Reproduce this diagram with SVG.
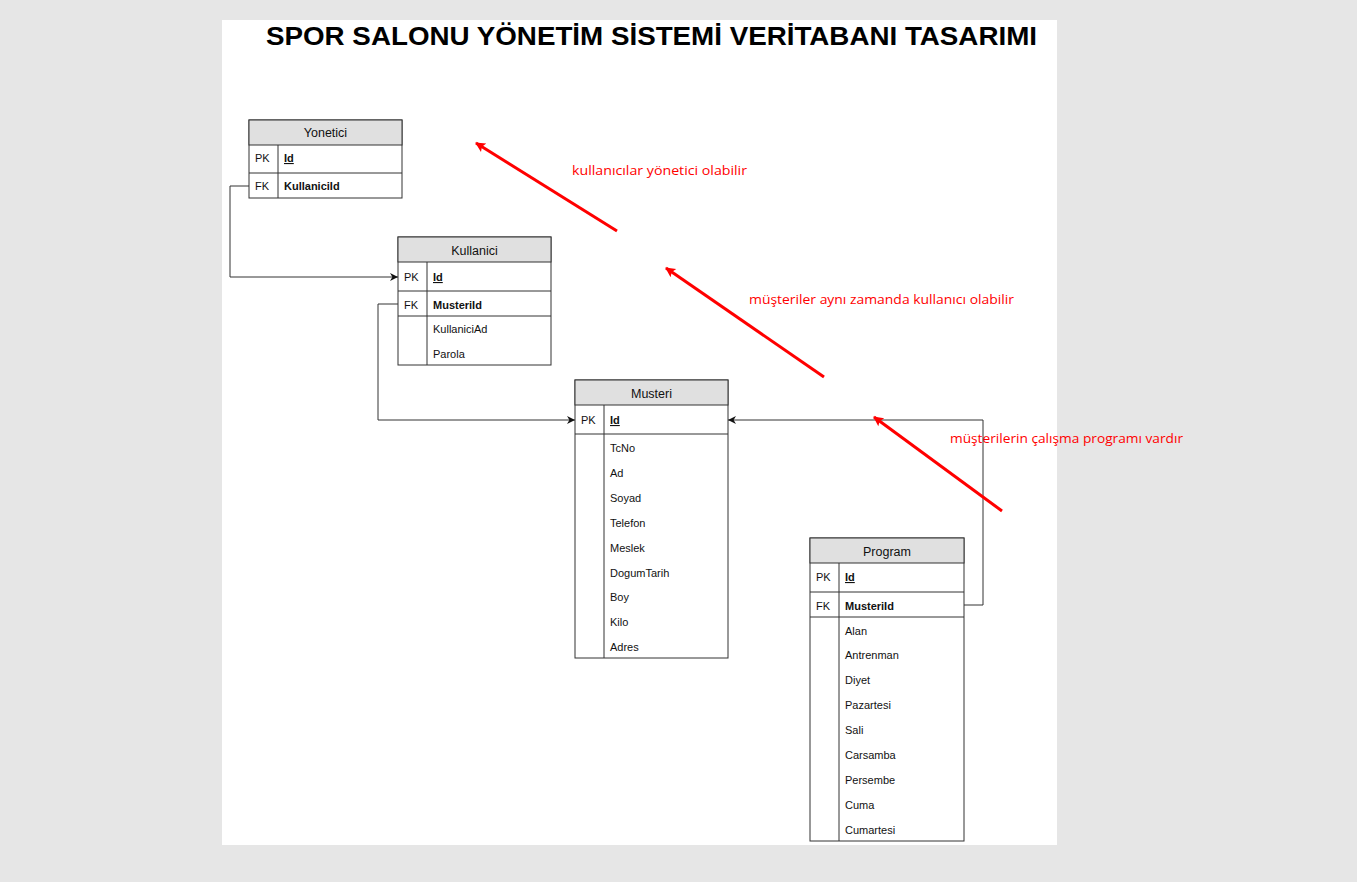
<svg xmlns="http://www.w3.org/2000/svg" width="1357" height="882" viewBox="0 0 1357 882">
<defs>
<marker id="blk" viewBox="0 0 10 10" refX="10" refY="5" markerWidth="8" markerHeight="8" markerUnits="userSpaceOnUse" orient="auto">
<path d="M0,0 L10,5 L0,10 L3,5 Z" fill="#111"/>
</marker>
<marker id="red" viewBox="0 0 10 10" refX="9" refY="5" markerWidth="12" markerHeight="10" markerUnits="userSpaceOnUse" orient="auto">
<path d="M0,0 L10,5 L0,10 L2,5 Z" fill="#ff0000"/>
</marker>
</defs>
<style>
.box{fill:#ffffff;stroke:#333333;stroke-width:1}
.hdr{fill:#e0e0e0;stroke:#333333;stroke-width:1}
.ln{stroke:#333333;stroke-width:1;fill:none}
.ht{font-family:"Liberation Sans",Arial,sans-serif;font-size:12.5px;fill:#111;text-anchor:middle}
.t{font-family:"Liberation Sans",Arial,sans-serif;font-size:11px;fill:#111}
.b{font-weight:bold}
.u{text-decoration:underline}
.conn{stroke:#333333;stroke-width:1;fill:none}
.rarr{stroke:#ff0000;stroke-width:3;fill:none}
.note{font-family:"Open Sans","Noto Sans",sans-serif;font-size:13.5px;fill:#ff0000}
</style>
<rect x="0" y="0" width="1357" height="882" fill="#e6e6e6"/>
<rect x="222" y="20" width="835" height="825" fill="#ffffff"/>
<text x="266" y="45" textLength="771" lengthAdjust="spacingAndGlyphs" font-family="Liberation Sans,Arial,sans-serif" font-size="25" font-weight="bold" fill="#000">SPOR SALONU YÖNETİM SİSTEMİ VERİTABANI TASARIMI</text>

<g id="connectors">
<polyline class="conn" points="249,186 230,186 230,277 398,277" marker-end="url(#blk)"/>
<polyline class="conn" points="398,304 378,304 378,420 575,420" marker-end="url(#blk)"/>
<polyline class="conn" points="964,605 983,605 983,420 728,420" marker-end="url(#blk)"/>
<line class="rarr" x1="617" y1="231" x2="476" y2="143" marker-end="url(#red)"/>
<line class="rarr" x1="824" y1="377" x2="666" y2="268" marker-end="url(#red)"/>
<line class="rarr" x1="1002" y1="511" x2="874" y2="417" marker-end="url(#red)"/>
</g>

<g id="yonetici">
<rect class="box" x="249" y="120" width="153" height="78"/>
<rect class="hdr" x="249" y="120" width="153" height="25"/>
<line class="ln" x1="249" y1="173" x2="402" y2="173"/>
<line class="ln" x1="278" y1="145" x2="278" y2="198"/>
<text class="ht" x="325.5" y="137">Yonetici</text>
<text class="t" x="255" y="162">PK</text>
<text class="t b u" x="284" y="162">Id</text>
<text class="t" x="255" y="190">FK</text>
<text class="t b" x="284" y="190">KullaniciId</text>
</g>

<g id="kullanici">
<rect class="box" x="398" y="237" width="153" height="128"/>
<rect class="hdr" x="398" y="237" width="153" height="25"/>
<line class="ln" x1="398" y1="291" x2="551" y2="291"/>
<line class="ln" x1="398" y1="316" x2="551" y2="316"/>
<line class="ln" x1="427" y1="262" x2="427" y2="365"/>
<text class="ht" x="474.5" y="255">Kullanici</text>
<text class="t" x="404" y="281">PK</text>
<text class="t b u" x="433" y="281">Id</text>
<text class="t" x="404" y="309">FK</text>
<text class="t b" x="433" y="309">MusteriId</text>
<text class="t" x="433" y="333">KullaniciAd</text>
<text class="t" x="433" y="358">Parola</text>
</g>

<g id="musteri">
<rect class="box" x="575" y="380" width="153" height="278"/>
<rect class="hdr" x="575" y="380" width="153" height="25"/>
<line class="ln" x1="575" y1="434" x2="728" y2="434"/>
<line class="ln" x1="604" y1="405" x2="604" y2="658"/>
<text class="ht" x="651.5" y="398">Musteri</text>
<text class="t" x="581" y="424">PK</text>
<text class="t b u" x="610" y="424">Id</text>
<text class="t" x="610" y="452">TcNo</text>
<text class="t" x="610" y="477">Ad</text>
<text class="t" x="610" y="502">Soyad</text>
<text class="t" x="610" y="527">Telefon</text>
<text class="t" x="610" y="552">Meslek</text>
<text class="t" x="610" y="577">DogumTarih</text>
<text class="t" x="610" y="601">Boy</text>
<text class="t" x="610" y="626">Kilo</text>
<text class="t" x="610" y="651">Adres</text>
</g>

<g id="program">
<rect class="box" x="810" y="538" width="154" height="303"/>
<rect class="hdr" x="810" y="538" width="154" height="25"/>
<line class="ln" x1="810" y1="592" x2="964" y2="592"/>
<line class="ln" x1="810" y1="617" x2="964" y2="617"/>
<line class="ln" x1="839" y1="563" x2="839" y2="841"/>
<text class="ht" x="887" y="556">Program</text>
<text class="t" x="816" y="581">PK</text>
<text class="t b u" x="845" y="581">Id</text>
<text class="t" x="816" y="610">FK</text>
<text class="t b" x="845" y="610">MusteriId</text>
<text class="t" x="845" y="635">Alan</text>
<text class="t" x="845" y="659">Antrenman</text>
<text class="t" x="845" y="684">Diyet</text>
<text class="t" x="845" y="709">Pazartesi</text>
<text class="t" x="845" y="734">Sali</text>
<text class="t" x="845" y="759">Carsamba</text>
<text class="t" x="845" y="784">Persembe</text>
<text class="t" x="845" y="809">Cuma</text>
<text class="t" x="845" y="834">Cumartesi</text>
</g>

<g id="notes">
<text class="note" x="572" y="175" textLength="175" lengthAdjust="spacingAndGlyphs">kullanıcılar yönetici olabilir</text>
<text class="note" x="749" y="304" textLength="265" lengthAdjust="spacingAndGlyphs">müşteriler aynı zamanda kullanıcı olabilir</text>
<text class="note" x="950" y="443" textLength="233" lengthAdjust="spacingAndGlyphs">müşterilerin çalışma programı vardır</text>
</g>
</svg>
